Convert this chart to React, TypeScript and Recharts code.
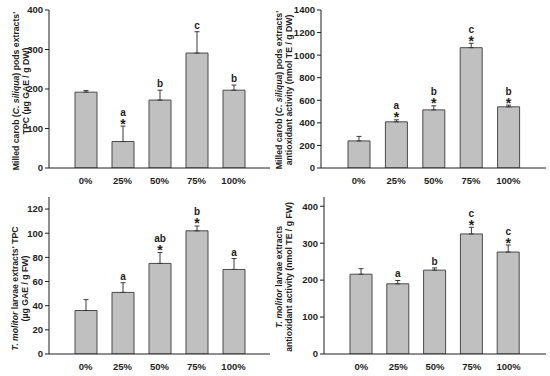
import React from "react";
import { BarChart, Bar, XAxis, YAxis, ErrorBar, LabelList } from "recharts";

const doses = ["0%", "25%", "50%", "75%", "100%"];

// (A) milled carob pods, TPC
const carobTpc = [192, 67, 172, 291, 197];
const carobTpcErr = [4, 39, 25, 54, 13];
const carobTpcLetters = ["", "a", "b", "c", "b"];
const carobTpcStars = [false, true, false, false, false];

// (C) milled carob pods, antioxidant activity
const carobAox = [240, 409, 515, 1066, 542];
const carobAoxErr = [40, 18, 36, 39, 15];
const carobAoxLetters = ["", "a", "b", "c", "b"];
const carobAoxStars = [false, true, true, true, true];

// (B) T. molitor larvae, TPC
const larvaeTpc = [36, 51, 75, 102, 70];
const larvaeTpcErr = [9, 8, 9, 4, 9];
const larvaeTpcLetters = ["", "a", "ab", "b", "a"];
const larvaeTpcStars = [false, false, true, true, false];

// (D) T. molitor larvae, antioxidant activity
const larvaeAox = [216, 190, 227, 325, 276];
const larvaeAoxErr = [15, 9, 6, 18, 19];
const larvaeAoxLetters = ["", "a", "b", "c", "c"];
const larvaeAoxStars = [false, false, false, true, true];

const FONT = "'Liberation Sans', Arial, sans-serif";
const INK = "#1e1e1e";
const tickStyle = { fontFamily: FONT, fontWeight: 700, fontSize: 9.5, fill: INK };

type Seg = { t: string; i?: boolean };

function AxisTitle({ lines, x1, x2, cy }: { lines: Seg[][]; x1: number; x2: number; cy: number }) {
  const xs = [x1, x2];
  return (
    <g>
      {lines.map((segs, k) => (
        <text
          key={k}
          x={xs[k]}
          y={cy}
          transform={`rotate(-90, ${xs[k]}, ${cy})`}
          textAnchor="middle"
          fontFamily={FONT}
          fontWeight={700}
          fontSize={8.7}
          fill={INK}
        >
          {segs.map((s, j) => (
            <tspan key={j} fontStyle={s.i ? "italic" : "normal"}>
              {s.t}
            </tspan>
          ))}
        </text>
      ))}
    </g>
  );
}

function PanelTag({ text, tx, ty }: { text: string; tx: number; ty: number }) {
  return (
    <text x={tx} y={ty} textAnchor="end" fontFamily={FONT} fontWeight={700} fontSize={10} fill={INK}>
      {text}
    </text>
  );
}

interface PanelProps {
  left: number;
  top: number;
  values: number[];
  errs: number[];
  letters: string[];
  stars: boolean[];
  domain: [number, number];
  ticks: number[];
  yWidth: number;
  mTop: number;
  mRight: number;
  xHeight: number;
  title: Seg[][];
  titleX: [number, number];
  titleY: number;
  tag: string;
  tagX: number;
  tagY: number;
}

function Panel(p: PanelProps) {
  const data = doses.map((d, i) => ({ dose: d, value: p.values[i], err: [0, p.errs[i]] }));
  const plotW = 275 - p.yWidth - p.mRight;
  const pad = Math.round(plotW / 12);

  // significance letters and asterisks sit above the error bar cap
  const marks = (props: any) => {
    const { x, y, width, height, index } = props;
    const v = p.values[index];
    const capY = y - (p.errs[index] * height) / v;
    const cx = x + width / 2;
    const star = p.stars[index];
    const letterY = star ? capY - 14 : capY - 6.5;
    return (
      <g>
        {star && (
          <text x={cx} y={capY + 2.5} textAnchor="middle" fontFamily={FONT} fontWeight={700} fontSize={14} fill={INK}>
            *
          </text>
        )}
        {p.letters[index] && (
          <text x={cx} y={letterY + 3.5} textAnchor="middle" fontFamily={FONT} fontWeight={700} fontSize={10} fill={INK}>
            {p.letters[index]}
          </text>
        )}
      </g>
    );
  };

  return (
    <div style={{ position: "absolute", left: p.left, top: p.top }}>
      <BarChart
        width={275}
        height={188}
        data={data}
        margin={{ top: p.mTop, right: p.mRight, left: 0, bottom: 0 }}
      >
        <XAxis
          dataKey="dose"
          height={p.xHeight}
          padding={{ left: pad, right: pad }}
          tickLine={false}
          tickSize={0}
          tickMargin={9}
          axisLine={{ stroke: INK }}
          tick={tickStyle}
          interval={0}
        />
        <XAxis
          xAxisId="top"
          orientation="top"
          dataKey="dose"
          height={0}
          tick={false}
          tickLine={false}
          axisLine={{ stroke: INK }}
          label={<PanelTag text={p.tag} tx={p.tagX} ty={p.tagY} />}
        />
        <YAxis
          domain={p.domain}
          ticks={p.ticks}
          width={p.yWidth}
          tickSize={4}
          tickMargin={2}
          axisLine={{ stroke: INK }}
          tickLine={{ stroke: INK }}
          tick={tickStyle}
          allowDataOverflow
          label={<AxisTitle lines={p.title} x1={p.titleX[0]} x2={p.titleX[1]} cy={p.titleY} />}
        />
        <YAxis
          yAxisId="right"
          orientation="right"
          width={0}
          tick={false}
          tickLine={false}
          axisLine={{ stroke: INK }}
        />
        <Bar
          dataKey="value"
          fill="#c0c0c0"
          stroke="#4a4a4a"
          strokeWidth={1}
          barSize={22}
          isAnimationActive={false}
        >
          <ErrorBar dataKey="err" width={2.5} stroke="#3a3a3a" strokeWidth={1} isAnimationActive={false} />
          <LabelList dataKey="value" content={marks} />
        </Bar>
      </BarChart>
    </div>
  );
}

export default function App() {
  return (
    <div style={{ position: "absolute", left: 0, top: 0, width: 550, height: 376, background: "#fff" }}>
      <Panel
        left={0}
        top={0}
        values={carobTpc}
        errs={carobTpcErr}
        letters={carobTpcLetters}
        stars={carobTpcStars}
        domain={[0, 400]}
        ticks={[0, 100, 200, 300, 400]}
        yWidth={49}
        mTop={10}
        mRight={5}
        xHeight={20}
        title={[
          [{ t: "Milled carob (" }, { t: "C. siliqua", i: true }, { t: ") pods extracts'" }],
          [{ t: "TPC (µg GAE / g DW)" }],
        ]}
        titleX={[19, 29]}
        titleY={91}
        tag="(A)"
        tagX={268}
        tagY={23.5}
      />
      <Panel
        left={275}
        top={0}
        values={carobAox}
        errs={carobAoxErr}
        letters={carobAoxLetters}
        stars={carobAoxStars}
        domain={[0, 1400]}
        ticks={[0, 200, 400, 600, 800, 1000, 1200, 1400]}
        yWidth={46}
        mTop={10}
        mRight={4}
        xHeight={20}
        title={[
          [{ t: "Milled carob (" }, { t: "C. siliqua", i: true }, { t: ") pods extracts'" }],
          [{ t: "antioxidant activity (nmol TE / g DW)" }],
        ]}
        titleX={[7, 16.5]}
        titleY={90}
        tag="(C)"
        tagX={264}
        tagY={25}
      />
      <Panel
        left={0}
        top={188}
        values={larvaeTpc}
        errs={larvaeTpcErr}
        letters={larvaeTpcLetters}
        stars={larvaeTpcStars}
        domain={[0, 130]}
        ticks={[0, 20, 40, 60, 80, 100, 120]}
        yWidth={49}
        mTop={9}
        mRight={5}
        xHeight={22}
        title={[
          [{ t: "T. molitor", i: true }, { t: " larvae extracts' TPC" }],
          [{ t: "(µg GAE / g FW)" }],
        ]}
        titleX={[18, 28]}
        titleY={100.5}
        tag="(B)"
        tagX={265}
        tagY={19}
      />
      <Panel
        left={275}
        top={188}
        values={larvaeAox}
        errs={larvaeAoxErr}
        letters={larvaeAoxLetters}
        stars={larvaeAoxStars}
        domain={[0, 425]}
        ticks={[0, 100, 200, 300, 400]}
        yWidth={49}
        mTop={9}
        mRight={4}
        xHeight={22}
        title={[
          [{ t: "T. molitor", i: true }, { t: " larvae extracts" }],
          [{ t: "antioxidant activity (nmol TE / g FW)" }],
        ]}
        titleX={[7, 16.7]}
        titleY={89}
        tag="(D)"
        tagX={265}
        tagY={18.5}
      />
    </div>
  );
}
